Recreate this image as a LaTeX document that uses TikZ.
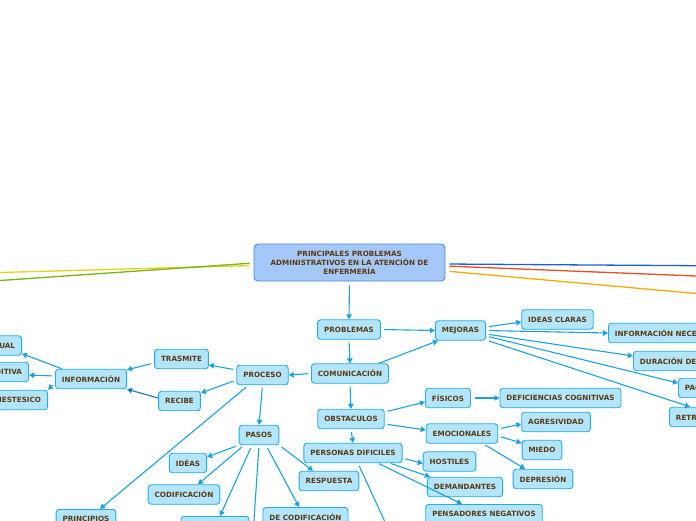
\documentclass[tikz,border=0pt]{standalone}
\usepackage{fontspec}
\setmainfont{DejaVu Sans}
\usepackage{xcolor}
\definecolor{cFill}{HTML}{B3E5FC}
\definecolor{cLine}{HTML}{29A9E1}
\definecolor{cArrow}{HTML}{1BA1E2}
\definecolor{cDark}{HTML}{1C78B5}
\definecolor{cText}{HTML}{5B3A12}
\definecolor{cRootFill}{HTML}{A4C8FA}
\definecolor{cRootLine}{HTML}{4A86E8}
\definecolor{cYellow}{HTML}{E5D21C}
\definecolor{cGreen}{HTML}{7AB317}
\definecolor{cBlue}{HTML}{1F5FCF}
\definecolor{cRed}{HTML}{E84E1E}
\definecolor{cOrange}{HTML}{F5AB00}
\usepackage{tikz}
\usetikzlibrary{arrows.meta}
\tikzset{
  node-box/.style={draw=cLine,fill=cFill,line width=0.9pt,rounded corners=3pt,
    minimum height=19.5pt,inner xsep=6.5pt,inner ysep=0pt,text=cText,
    font=\bfseries\fontsize{7.2}{9}\selectfont},
  node-root/.style={draw=cRootLine,fill=cRootFill,line width=0.9pt,rounded corners=4pt,
    minimum width=191pt,minimum height=37pt,text width=180pt,align=center,
    inner sep=0pt,text=cText,font=\bfseries\fontsize{7.2}{9}\selectfont},
  arrow/.style={-{Triangle[length=5pt,width=5.5pt]},line width=1.1pt,draw=cArrow,shorten <=3pt},
  arrow-dark/.style={arrow,draw=cDark},
  branch/.style={line width=1.3pt,shorten <=4pt},
}

\begin{document}
\begin{tikzpicture}[x=1pt,y=-1pt]
  \clip (0,0) rectangle (696,520);
  % raiz
  \node[node-root] (root) at (349.5,262.5) {PRINCIPALES PROBLEMAS\\ADMINISTRATIVOS EN LA ATENCIÓN DE\\ENFERMERÍA};
  \coordinate (out-yellow) at (0,272.5);
  \coordinate (out-green) at (0,280.5);
  \coordinate (out-blue) at (696,265.7);
  \coordinate (out-red) at (696,276);
  \coordinate (out-orange) at (696,293.5);
  \draw[branch,cYellow] ([yshift=-3pt]root.west) -- (out-yellow);
  \draw[branch,cGreen] ([yshift=-0.5pt]root.west) -- (out-green);
  \draw[branch,cBlue] ([yshift=-1.5pt]root.east) -- (out-blue);
  \draw[branch,cRed] ([yshift=-3.5pt]root.east) -- (out-red);
  \draw[branch,cOrange] ([yshift=-8.5pt]root.east) -- (out-orange);
  % nivel 1
  \node[node-box] (prob) at (349,329.5) {PROBLEMAS};
  \node[node-box] (mej) at (460.5,330.5) {MEJORAS};
  \node[node-box] (com) at (350,373.5) {COMUNICACIÓN};
  \node[node-box] (proc) at (262.5,375) {PROCESO};
  \node[node-box] (tras) at (181.5,359) {TRASMITE};
  \node[node-box] (reci) at (179.5,401) {RECIBE};
  \node[node-box] (info) at (91,379) {INFORMACIÓN};
  \node[node-box,anchor=east] (visual) at (22,345.5) {VISUAL};
  \node[node-box,anchor=east] (audit) at (29,372) {AUDITIVA};
  \node[node-box,anchor=east] (kines) at (48,400) {KINESTESICO};
  % mejoras
  \node[node-box] (ideas) at (557.5,319.5) {IDEAS CLARAS};
  \node[node-box,anchor=west] (infnec) at (608,333) {INFORMACIÓN NECESARIA};
  \node[node-box,anchor=west] (dur) at (633,361) {DURACIÓN DE LA CONSULTA};
  \node[node-box,anchor=west] (pac) at (678,388) {PACIENCIA};
  \node[node-box,anchor=west] (retr) at (669,417) {RETROALIMENTACIÓN};
  % obstaculos
  \node[node-box] (obst) at (351,419) {OBSTACULOS};
  \node[node-box] (fis) at (448,398) {FÍSICOS};
  \node[node-box] (defi) at (560.5,398) {DEFICIENCIAS COGNITIVAS};
  \node[node-box] (emoc) at (462,433.5) {EMOCIONALES};
  \node[node-box] (agre) at (556,422) {AGRESIVIDAD};
  \node[node-box] (mied) at (542,450) {MIEDO};
  \node[node-box] (depr) at (543,479) {DEPRESIÓN};
  \node[node-box] (pdif) at (353,453) {PERSONAS DIFICILES};
  \node[node-box] (host) at (449.5,461.5) {HOSTILES};
  \node[node-box] (dema) at (465,487) {DEMANDANTES};
  \node[node-box,anchor=north] (pens) at (484,504) {PENSADORES NEGATIVOS};
  \coordinate (pdif-out) at (391,535);
  % pasos
  \node[node-box] (pasos) at (259,435) {PASOS};
  \node[node-box] (ideas2) at (188,463) {IDÉAS};
  \node[node-box] (codi) at (184,494.5) {CODIFICACIÓN};
  \node[node-box] (resp) at (329,481) {RESPUESTA};
  \node[node-box,anchor=north] (deco) at (305.5,507) {DE CODIFICACIÓN};
  \node[node-box,anchor=north,minimum width=68pt] (canal) at (215,516) {};
  \node[node-box,anchor=north] (prin) at (86,509) {PRINCIPIOS};
  \coordinate (pasos-out) at (253,535);

  \draw[arrow,shorten <=4pt] (root.south) -- (prob.north);
  \draw[arrow] (prob.east) -- (mej.west);
  \draw[arrow] (prob.south) -- (com.north);
  \draw[arrow,shorten <=0pt] ([xshift=-10pt]com.north east) -- ([xshift=3pt]mej.south west);
  \draw[arrow] (com.west) -- (proc.east);
  \draw[arrow] (com.south) -- (obst.north);
  \draw[arrow] ([yshift=5pt]proc.west) -- ([yshift=-6pt]tras.east);
  \draw[arrow] ([yshift=-5pt]proc.west) -- ([yshift=8pt]reci.east);
  \draw[arrow] ([xshift=-14pt]proc.south) -- ([xshift=14pt]prin.north);
  \draw[arrow] (proc.south) -- (pasos.north);
  \draw[arrow] ([yshift=-4pt]tras.west) -- ([yshift=-1pt]info.north east);
  \draw[arrow-dark,shorten <=0pt] ([yshift=3pt]reci.west) -- (info.south east);
  \draw[arrow,shorten <=0pt] ([xshift=7pt]info.north west) -- ([yshift=2pt]visual.south east);
  \draw[arrow] ([yshift=3pt]info.west) -- ([yshift=-3pt]audit.east);
  \draw[arrow] ([yshift=-4pt]info.west) -- (kines.north east);
  % mejoras
  \draw[arrow] ([yshift=3.5pt]mej.east) -- ([yshift=-2.5pt]ideas.west);
  \draw[arrow] (mej.east) -- (infnec.west);
  \draw[arrow] ([yshift=-3.5pt]mej.east) -- ([yshift=5pt]dur.west);
  \draw[arrow] ([yshift=-5.5pt]mej.east) -- ([yshift=5pt]pac.west);
  \draw[arrow] ([yshift=-9.5pt]mej.east) -- ([xshift=21pt]retr.north west);
  % obstaculos
  \draw[arrow] ([yshift=7pt]obst.east) -- ([yshift=-4pt]fis.west);
  \draw[arrow] ([yshift=-5pt]obst.east) -- ([yshift=3.5pt]emoc.west);
  \draw[arrow] (obst.south) -- (pdif.north);
  \draw[arrow,shorten <=4pt] (fis.east) -- (defi.west);
  \draw[arrow] ([yshift=4.5pt]emoc.east) -- ([yshift=-2pt]agre.west);
  \draw[arrow] ([yshift=-2.5pt]emoc.east) -- ([yshift=7pt]mied.west);
  \draw[arrow] ([xshift=21pt]emoc.south) -- ([xshift=-18pt]depr.north);
  \draw[arrow] ([yshift=-5pt]pdif.east) -- ([yshift=-2pt]host.west);
  \draw[arrow,shorten <=1pt] ([xshift=37pt]pdif.south) -- ([xshift=3pt]dema.north west);
  \draw[arrow,shorten <=1pt] ([xshift=25pt]pdif.south) -- ([xshift=-22pt]pens.north);
  \draw[arrow] ([xshift=5pt]pdif.south) -- (pdif-out);
  % pasos
  \draw[arrow] (pasos.south west) -- ([yshift=6pt]ideas2.east);
  \draw[arrow] ([xshift=-15pt]pasos.south) -- ([xshift=14pt]codi.north);
  \draw[arrow] ([xshift=-7pt]pasos.south) -- ([xshift=5pt]canal.north);
  \draw[arrow] (pasos.south) -- (pasos-out);
  \draw[arrow] ([xshift=7pt]pasos.south) -- ([xshift=-6.5pt]deco.north);
  \draw[arrow] (pasos.south east) -- ([xshift=-16pt]resp.north);
\end{tikzpicture}
\end{document}
